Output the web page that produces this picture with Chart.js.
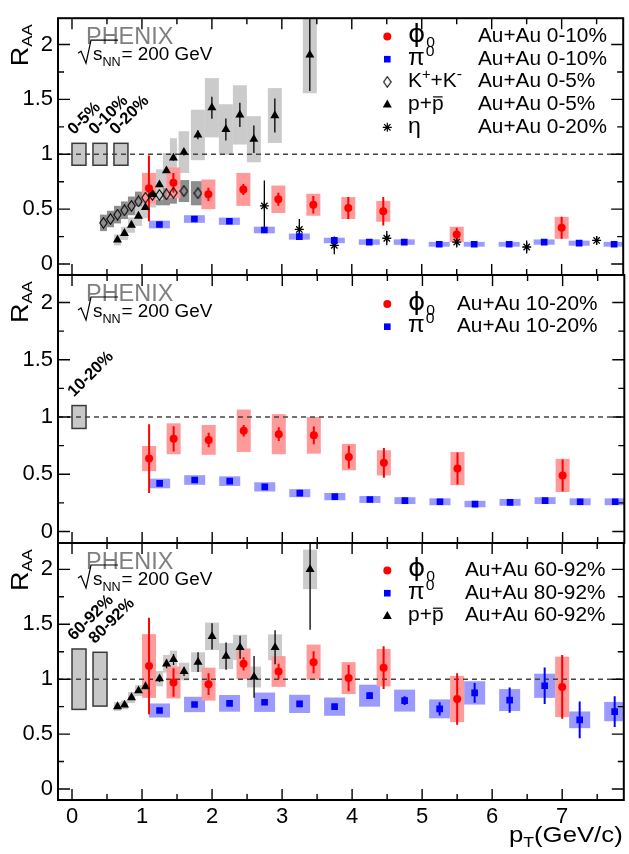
<!DOCTYPE html>
<html>
<head>
<meta charset="utf-8">
<script src="https://cdn.jsdelivr.net/npm/chart.js@4.4.1/dist/chart.umd.min.js"></script>
<style>
  body { margin: 0; background: #fff; }
  #wrap { position: relative; width: 629px; height: 854px; }
  #wrap canvas { position: absolute; left: 0; top: 0; }
</style>
</head>
<body>
<div id="wrap">
  <canvas id="cTop" width="629" height="854"></canvas>
  <canvas id="cMid" width="629" height="854"></canvas>
  <canvas id="cBot" width="629" height="854"></canvas>
</div>
<script>
// axis ticks
var xTicks = [0, 1, 2, 3, 4, 5, 6, 7];
var yTicks = [0, 0.5, 1, 1.5, 2];

// pT bin centres (GeV/c)
var phiPt = [1.1, 1.45, 1.95, 2.45, 2.95, 3.45, 3.95, 4.45, 5.5, 7.0];
var pi0Pt = [1.25, 1.75, 2.25, 2.75, 3.25, 3.75, 4.25, 4.75, 5.25, 5.75, 6.25, 6.75, 7.25, 7.75];
var kaonPt = [0.45, 0.55, 0.65, 0.75, 0.85, 0.95, 1.05, 1.15, 1.25, 1.35, 1.45, 1.6, 1.8];
var protonPt = [0.65, 0.75, 0.85, 0.95, 1.05, 1.15, 1.25, 1.35, 1.45, 1.6, 1.8, 2.0, 2.2, 2.4, 2.6, 2.9, 3.4];
var protonPtPeriph = [0.65, 0.75, 0.85, 0.95, 1.05, 1.25, 1.35, 1.45, 1.6, 1.8, 2.0, 2.2, 2.4, 2.6, 2.9, 3.4];
var etaPt = [2.75, 3.25, 3.75, 4.5, 5.5, 6.5, 7.5];

// --- central (top panel) ---
var phiRaa010 = [0.69, 0.74, 0.635, 0.68, 0.59, 0.54, 0.51, 0.48, 0.27, 0.33];
var phiStat010 = [0.30, 0.09, 0.06, 0.05, 0.06, 0.08, 0.10, 0.13, 0.06, 0.10];
var phiSys010 = [0.14, 0.14, 0.135, 0.15, 0.125, 0.10, 0.10, 0.095, 0.07, 0.10];
var pi0Raa010 = [0.36, 0.41, 0.39, 0.31, 0.25, 0.215, 0.20, 0.20, 0.18, 0.18, 0.18, 0.20, 0.19, 0.18];
var pi0Stat010 = [0.005, 0.005, 0.005, 0.005, 0.005, 0.005, 0.005, 0.005, 0.005, 0.005, 0.005, 0.006, 0.008, 0.01];
var pi0Sys010 = [0.035, 0.035, 0.033, 0.03, 0.028, 0.025, 0.025, 0.025, 0.022, 0.022, 0.022, 0.024, 0.023, 0.022];
var kaonRaa05 = [0.375, 0.41, 0.45, 0.49, 0.53, 0.57, 0.605, 0.63, 0.63, 0.635, 0.65, 0.665, 0.645];
var kaonSys05 = [0.075, 0.075, 0.08, 0.08, 0.085, 0.09, 0.09, 0.095, 0.095, 0.1, 0.1, 0.1, 0.11];
var protonRaa05 = [0.22, 0.28, 0.355, 0.437, 0.517, 0.635, 0.723, 0.851, 0.966, 1.02, 1.176, 1.424, 1.226, 1.359, 1.137, 1.353, 1.906];
var protonStat05 = [0.01, 0.01, 0.01, 0.01, 0.015, 0.015, 0.02, 0.02, 0.025, 0.03, 0.04, 0.1, 0.1, 0.11, 0.125, 0.155, 0.33];
var protonSys05 = [0.05, 0.06, 0.07, 0.09, 0.1, 0.12, 0.14, 0.16, 0.18, 0.19, 0.23, 0.27, 0.23, 0.27, 0.21, 0.25, 0.35];
var etaRaa020 = [0.53, 0.315, 0.17, 0.235, 0.20, 0.155, 0.215];
var etaStat020 = [0.23, 0.095, 0.08, 0.065, 0.05, 0.06, 0.04];

// --- 10-20% (middle panel) ---
var phiRaa1020 = [0.637, 0.81, 0.80, 0.88, 0.85, 0.84, 0.65, 0.60, 0.55, 0.49];
var phiStat1020 = [0.30, 0.11, 0.063, 0.05, 0.06, 0.077, 0.10, 0.13, 0.14, 0.14];
var phiSys1020 = [0.11, 0.135, 0.13, 0.185, 0.175, 0.16, 0.115, 0.11, 0.145, 0.145];
var pi0Raa1020 = [0.42, 0.45, 0.44, 0.39, 0.335, 0.305, 0.28, 0.27, 0.26, 0.24, 0.255, 0.27, 0.26, 0.26];
var pi0Stat1020 = [0.005, 0.005, 0.005, 0.005, 0.005, 0.005, 0.005, 0.005, 0.005, 0.006, 0.006, 0.008, 0.01, 0.01];
var pi0Sys1020 = [0.042, 0.042, 0.042, 0.04, 0.035, 0.032, 0.03, 0.03, 0.03, 0.028, 0.03, 0.03, 0.03, 0.03];

// --- peripheral (bottom panel) ---
var phiRaa6092 = [1.12, 0.97, 0.955, 1.14, 1.07, 1.155, 1.01, 1.105, 0.82, 0.93];
var phiStat6092 = [0.44, 0.13, 0.10, 0.06, 0.07, 0.10, 0.12, 0.195, 0.235, 0.29];
var phiSys6092 = [0.29, 0.145, 0.15, 0.14, 0.14, 0.16, 0.145, 0.17, 0.21, 0.275];
var pi0Raa8092 = [0.715, 0.77, 0.78, 0.79, 0.775, 0.75, 0.85, 0.805, 0.73, 0.875, 0.81, 0.94, 0.63, 0.705];
var pi0Stat8092 = [0.01, 0.01, 0.01, 0.015, 0.015, 0.02, 0.03, 0.04, 0.06, 0.09, 0.115, 0.167, 0.167, 0.14];
var pi0Sys8092 = [0.064, 0.07, 0.076, 0.088, 0.083, 0.083, 0.10, 0.10, 0.086, 0.106, 0.10, 0.11, 0.076, 0.088];
var protonRaa6092 = [0.751, 0.766, 0.833, 0.896, 0.933, 1.005, 1.14, 1.18, 1.07, 1.155, 1.39, 1.21, 1.29, 1.02, 1.29, 2.0];
var protonStat6092 = [0.01, 0.01, 0.01, 0.015, 0.02, 0.03, 0.04, 0.05, 0.04, 0.09, 0.12, 0.125, 0.105, 0.19, 0.155, 0.55];
var protonSys6092 = [0.04, 0.04, 0.05, 0.05, 0.06, 0.07, 0.08, 0.08, 0.08, 0.09, 0.125, 0.118, 0.114, 0.095, 0.118, 0.18];

// global (Ncoll) uncertainty boxes at RAA = 1
var normLabelsTop = ['0-5%', '0-10%', '0-20%'];
var normErrTop = [0.1, 0.1, 0.1];
var normLabelsMid = ['10-20%'];
var normErrMid = [0.1];
var normLabelsBot = ['60-92%', '80-92%'];
var normErrBot = [0.275, 0.245];

// legend texts
var legendTop = ['Au+Au 0-10%', 'Au+Au 0-10%', 'Au+Au 0-5%', 'Au+Au 0-5%', 'Au+Au 0-20%'];
var legendMid = ['Au+Au 10-20%', 'Au+Au 10-20%'];
var legendBot = ['Au+Au 60-92%', 'Au+Au 80-92%', 'Au+Au 60-92%'];

var FONT = '"Liberation Sans", Arial, Helvetica, sans-serif';

// diamond marker for K+K- (taller than wide, open)
var diamondImg = document.createElement('canvas');
diamondImg.width = 9; diamondImg.height = 12;
(function () {
  var d = diamondImg.getContext('2d');
  d.strokeStyle = '#000'; d.lineWidth = 1.1;
  d.beginPath();
  d.moveTo(4.5, 0.8); d.lineTo(8.2, 6); d.lineTo(4.5, 11.2); d.lineTo(0.8, 6); d.closePath();
  d.stroke();
})();

// marker / error / box style of each species
var PHI = { key: 'phi', pointStyle: 'circle', radius: 4, fill: '#ff0000', line: '#ff0000', border: 0,
            bar: '#ff0000', barWidth: 2, box: '#ff9a9a', boxHalf: 0.1 };
var PI0 = { key: 'pi0', pointStyle: 'rect', radius: 4.7, fill: '#0000ff', line: '#0000ff', border: 0,
            bar: '#0000ff', barWidth: 2, box: '#9b9bff', boxHalf: 0.15 };
var KAON = { key: 'kaon', pointStyle: diamondImg, radius: 5, fill: 'rgba(0,0,0,0)', line: '#000', border: 0,
             bar: null, box: '#8e8e8e', boxHalf: 0.1 };
var PROTON = { key: 'proton', pointStyle: 'triangle', radius: 5.2, fill: '#000', line: '#000', border: 0,
               bar: '#000', barWidth: 1.3, box: '#cbcbcb', boxHalf: 0.1 };
var ETA = { key: 'eta', pointStyle: 'star', radius: 4.5, fill: '#000', line: '#000', border: 1.3,
            bar: '#000', barWidth: 1.3, box: null, boxHalf: 0 };

function series(look, xs, ys, stat, sys) {
  return {
    look: look, stat: stat, sys: sys,
    data: xs.map(function (x, i) { return { x: x, y: ys[i] }; }),
    pointStyle: look.pointStyle,
    pointRadius: look.radius,
    pointBackgroundColor: look.fill,
    pointBorderColor: look.line,
    pointBorderWidth: look.border,
    showLine: false
  };
}

// text with sub/superscripts: parts = [{t, s, dy, dx, bold, bar}]
function rich(ctx, x, y, parts, opt) {
  opt = opt || {};
  var sx = opt.sx || 1, cx = 0;
  ctx.save();
  ctx.translate(x, y);
  if (opt.rot) ctx.rotate(opt.rot);
  ctx.fillStyle = opt.color || '#000';
  ctx.strokeStyle = opt.color || '#000';
  ctx.textAlign = 'left';
  ctx.textBaseline = 'alphabetic';
  parts.forEach(function (p) {
    ctx.font = (p.bold || opt.bold ? 'bold ' : '') + p.s + 'px ' + (p.family || FONT);
    cx += p.dx || 0;
    var w = ctx.measureText(p.t).width * sx;
    ctx.save();
    ctx.translate(cx, p.dy || 0);
    ctx.scale(sx, 1);
    ctx.fillText(p.t, 0, 0);
    ctx.restore();
    if (p.bar) {
      ctx.lineWidth = 1.2;
      ctx.beginPath();
      ctx.moveTo(cx + 1, (p.dy || 0) - p.s * 0.66);
      ctx.lineTo(cx + w - 1, (p.dy || 0) - p.s * 0.66);
      ctx.stroke();
    }
    cx += w;
  });
  ctx.restore();
  return cx;
}

var SYM = {
  phi: [{ t: '\u03D5', s: 25, family: '"DejaVu Sans", ' + FONT }, { t: '0', s: 15, dy: 5, dx: 1 }],
  pi0: [{ t: '\u03C0', s: 23 }, { t: '0', s: 15, dy: -9, dx: 1 }],
  kaon: [{ t: 'K', s: 20 }, { t: '+', s: 14, dy: -8 }, { t: '+K', s: 20 }, { t: '-', s: 15, dy: -8 }],
  proton: [{ t: 'p+', s: 20 }, { t: 'p', s: 20, bar: true }],
  eta: [{ t: '\u03B7', s: 22 }]
};

function drawMarker(ctx, look, x, y) {
  ctx.save();
  ctx.fillStyle = look.fill; ctx.strokeStyle = look.line;
  if (look.key === 'phi') {
    ctx.beginPath(); ctx.arc(x, y, 4, 0, Math.PI * 2); ctx.fill();
  } else if (look.key === 'pi0') {
    ctx.fillRect(x - 3.3, y - 3.3, 6.6, 6.6);
  } else if (look.key === 'kaon') {
    ctx.drawImage(diamondImg, x - 4.5, y - 6);
  } else if (look.key === 'proton') {
    ctx.beginPath(); ctx.moveTo(x, y - 5); ctx.lineTo(x + 4.5, y + 3); ctx.lineTo(x - 4.5, y + 3);
    ctx.closePath(); ctx.fill();
  } else {
    ctx.lineWidth = 1.2; ctx.beginPath();
    for (var k = 0; k < 4; k++) {
      var a = k * Math.PI / 4;
      ctx.moveTo(x - 4.5 * Math.cos(a), y - 4.5 * Math.sin(a));
      ctx.lineTo(x + 4.5 * Math.cos(a), y + 4.5 * Math.sin(a));
    }
    ctx.stroke();
  }
  ctx.restore();
}

function halfWidth(data, i, cap) {
  var g = Infinity;
  if (i > 0) g = Math.min(g, data[i].x - data[i - 1].x);
  if (i < data.length - 1) g = Math.min(g, data[i + 1].x - data[i].x);
  return Math.min(cap, g / 2);
}

function decoPlugin(cfg) {
  return {
    id: 'deco',
    beforeDatasetsDraw: function (chart) {
      var ctx = chart.ctx, a = chart.chartArea, xs = chart.scales.x, ys = chart.scales.y;
      ctx.save();
      ctx.beginPath(); ctx.rect(a.left, a.top, a.right - a.left, a.bottom - a.top); ctx.clip();

      // normalisation boxes
      cfg.normLabels.forEach(function (lab, i) {
        var x0 = xs.getPixelForValue(0.3 * i), x1 = xs.getPixelForValue(0.3 * i + 0.2);
        var y0 = ys.getPixelForValue(1 + cfg.normErr[i]), y1 = ys.getPixelForValue(1 - cfg.normErr[i]);
        ctx.fillStyle = '#c8c8c8';
        ctx.fillRect(x0, y0, x1 - x0, y1 - y0);
        ctx.strokeStyle = '#3a3a3a'; ctx.lineWidth = 1.5;
        ctx.strokeRect(x0, y0, x1 - x0, y1 - y0);
      });

      // systematic boxes, last series first
      for (var k = cfg.series.length - 1; k >= 0; k--) {
        var s = cfg.series[k];
        if (!s.sys) continue;
        ctx.fillStyle = s.look.box;
        s.data.forEach(function (p, i) {
          var hw = halfWidth(s.data, i, s.look.boxHalf);
          var x0 = xs.getPixelForValue(p.x - hw), x1 = xs.getPixelForValue(p.x + hw);
          var y0 = ys.getPixelForValue(p.y + s.sys[i]), y1 = ys.getPixelForValue(p.y - s.sys[i]);
          ctx.fillRect(x0, y0, x1 - x0, y1 - y0);
        });
      }

      // RAA = 1 line
      ctx.strokeStyle = '#444'; ctx.lineWidth = 1.4; ctx.setLineDash([5, 4]);
      ctx.beginPath();
      ctx.moveTo(a.left, ys.getPixelForValue(1)); ctx.lineTo(a.right, ys.getPixelForValue(1));
      ctx.stroke();
      ctx.setLineDash([]);

      // statistical error bars
      cfg.series.forEach(function (s) {
        if (!s.stat || !s.look.bar) return;
        ctx.strokeStyle = s.look.bar; ctx.lineWidth = s.look.barWidth;
        ctx.beginPath();
        s.data.forEach(function (p, i) {
          var px = xs.getPixelForValue(p.x);
          ctx.moveTo(px, ys.getPixelForValue(p.y + s.stat[i]));
          ctx.lineTo(px, ys.getPixelForValue(p.y - s.stat[i]));
        });
        ctx.stroke();
      });
      ctx.restore();
    },
    afterDraw: function (chart) {
      var ctx = chart.ctx, a = chart.chartArea, xs = chart.scales.x, ys = chart.scales.y;
      var top = a.top;
      ctx.save();
      // frame
      ctx.strokeStyle = '#000'; ctx.lineWidth = 2;
      ctx.strokeRect(a.left, a.top, a.right - a.left, a.bottom - a.top);
      // tick marks inside the frame
      ctx.lineWidth = 1.4; ctx.beginPath();
      for (var k = 0; k <= 8; k++) {
        var py = ys.getPixelForValue(k * 0.25), len = k % 2 ? 6 : 12;
        ctx.moveTo(a.left, py); ctx.lineTo(a.left + len, py);
        ctx.moveTo(a.right, py); ctx.lineTo(a.right - len, py);
      }
      for (var j = 0; j <= 15; j++) {
        var px = xs.getPixelForValue(j * 0.5), l2 = j % 2 ? 6 : 11;
        ctx.moveTo(px, a.bottom); ctx.lineTo(px, a.bottom - l2);
        ctx.moveTo(px, a.top); ctx.lineTo(px, a.top + l2);
      }
      ctx.stroke();

      // PHENIX and energy label
      rich(ctx, 86, top + 26, [{ t: 'PHENIX', s: 23 }], { color: '#7f7f7f', sx: 1.02 });
      ctx.lineWidth = 1.2; ctx.strokeStyle = '#000'; ctx.beginPath();
      ctx.moveTo(78, top + 35); ctx.lineTo(81, top + 33); ctx.lineTo(86, top + 45);
      ctx.lineTo(91, top + 22); ctx.lineTo(118, top + 22); ctx.stroke();
      rich(ctx, 93, top + 42, [{ t: 's', s: 18 }, { t: 'NN', s: 12, dy: 6 }], { sx: 1.05 });
      rich(ctx, 121.5, top + 42, [{ t: '= 200 GeV', s: 18 }], { sx: 1.05 });

      // R_AA axis title
      rich(ctx, 28, top + 48, [{ t: 'R', s: 24 }, { t: 'AA', s: 15, dy: 4 }], { rot: -Math.PI / 4 * 2, sx: 1.12 });

      // normalisation labels
      cfg.normLabels.forEach(function (lab, i) {
        var x0 = xs.getPixelForValue(0.3 * i);
        var y0 = ys.getPixelForValue(1 + cfg.normErr[i]);
        rich(ctx, x0 + 2, y0 - 8, [{ t: lab, s: 16.5, bold: true }], { rot: -Math.PI / 4 });
      });

      // legend
      cfg.legend.forEach(function (row, i) {
        var by = cfg.legendY + i * 22.7;
        drawMarker(ctx, row.look, 387.3, by - 5.5);
        rich(ctx, 408, by, SYM[row.look.key], { sx: 1.05 });
        rich(ctx, cfg.legendX, by, [{ t: row.text, s: 20 }], { sx: 1.04 });
      });

      if (cfg.showX) {
        rich(ctx, 509, 842, [{ t: 'p', s: 22 }, { t: 'T', s: 15, dy: 5 }, { t: '(GeV/c)', s: 22 }], { sx: 1.17 });
      }
      ctx.restore();
    }
  };
}

function makePanel(id, top, bottom, cfg) {
  var xAxisH = 40;
  return new Chart(document.getElementById(id), {
    type: 'scatter',
    data: { datasets: cfg.series },
    options: {
      responsive: false,
      animation: false,
      devicePixelRatio: 1,
      events: [],
      layout: { padding: { top: top, bottom: cfg.showX ? 854 - bottom - xAxisH : 854 - bottom, left: 0, right: 3 } },
      plugins: { legend: { display: false }, tooltip: { enabled: false } },
      scales: {
        x: {
          type: 'linear', min: -0.2, max: 7.88,
          display: !!cfg.showX,
          grid: { display: false, drawTicks: false },
          border: { display: false },
          afterBuildTicks: function (s) { s.ticks = xTicks.map(function (v) { return { value: v }; }); },
          afterFit: function (s) { s.height = cfg.showX ? xAxisH : 0; },
          ticks: { color: '#000', padding: 4, maxRotation: 0, autoSkip: false,
                   font: { family: FONT, size: 22 },
                   callback: function (v) { return String(v); } }
        },
        y: {
          type: 'linear', min: -0.1, max: 2.24,
          grid: { display: false, drawTicks: false },
          border: { display: false },
          afterBuildTicks: function (s) { s.ticks = yTicks.map(function (v) { return { value: v }; }); },
          afterFit: function (s) { s.width = 58; },
          ticks: { color: '#000', padding: 5, font: { family: FONT, size: 22 },
                   callback: function (v) { return String(v); } }
        }
      }
    },
    plugins: [decoPlugin(cfg)]
  });
}

// top: most central
var topSeries = [
  series(PHI, phiPt, phiRaa010, phiStat010, phiSys010),
  series(PI0, pi0Pt, pi0Raa010, pi0Stat010, pi0Sys010),
  series(PROTON, protonPt, protonRaa05, protonStat05, protonSys05),
  series(KAON, kaonPt, kaonRaa05, null, kaonSys05),
  series(ETA, etaPt, etaRaa020, etaStat020, null)
];
makePanel('cTop', 10, 275, {
  series: topSeries, normLabels: normLabelsTop, normErr: normErrTop,
  legendX: 478, legendY: 42,
  legend: [PHI, PI0, KAON, PROTON, ETA].map(function (l, i) { return { look: l, text: legendTop[i] }; })
});

// middle: 10-20%
var midSeries = [
  series(PHI, phiPt, phiRaa1020, phiStat1020, phiSys1020),
  series(PI0, pi0Pt, pi0Raa1020, pi0Stat1020, pi0Sys1020)
];
makePanel('cMid', 275, 543, {
  series: midSeries, normLabels: normLabelsMid, normErr: normErrMid,
  legendX: 457, legendY: 309.5,
  legend: [PHI, PI0].map(function (l, i) { return { look: l, text: legendMid[i] }; })
});

// bottom: peripheral
var botSeries = [
  series(PHI, phiPt, phiRaa6092, phiStat6092, phiSys6092),
  series(PI0, pi0Pt, pi0Raa8092, pi0Stat8092, pi0Sys8092),
  series(PROTON, protonPtPeriph, protonRaa6092, protonStat6092, protonSys6092)
];
makePanel('cBot', 543, 800, {
  series: botSeries, normLabels: normLabelsBot, normErr: normErrBot, showX: true,
  legendX: 465, legendY: 576,
  legend: [PHI, PI0, PROTON].map(function (l, i) { return { look: l, text: legendBot[i] }; })
});
</script>
</body>
</html>
